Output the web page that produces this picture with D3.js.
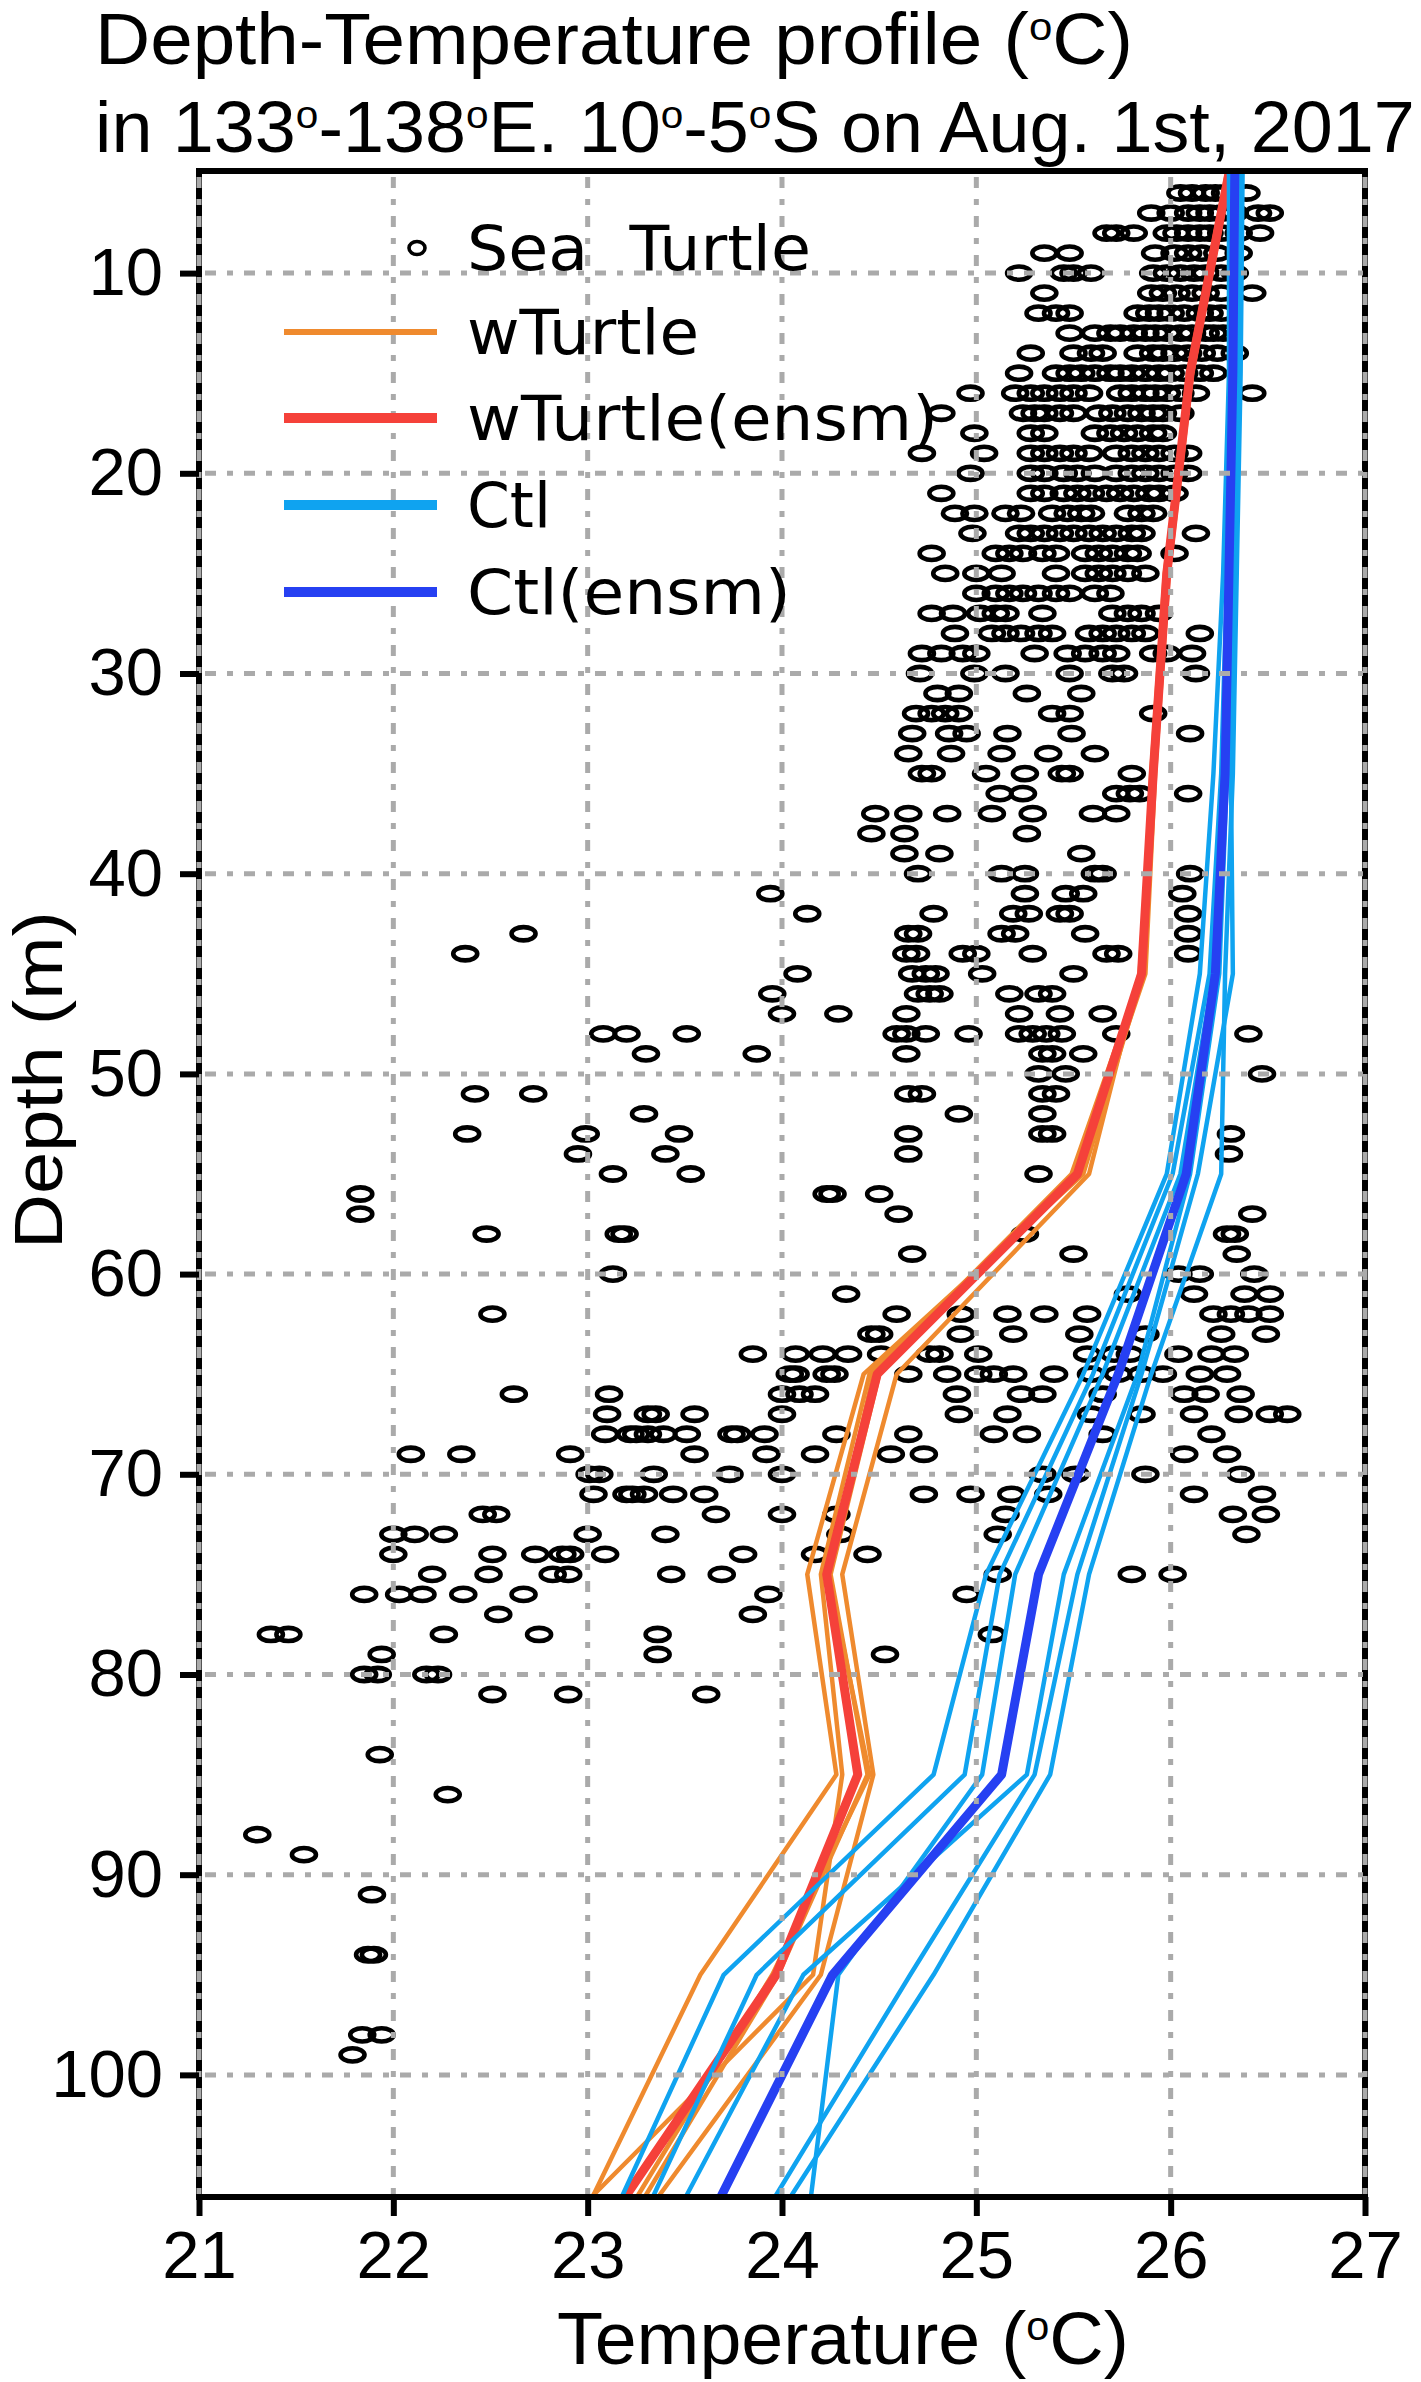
<!DOCTYPE html>
<html>
<head>
<meta charset="utf-8">
<script src="https://cdn.jsdelivr.net/npm/d3@7/dist/d3.min.js"></script>
<style>
  body { margin: 0; background: #fff; }
</style>
</head>
<body>
<svg id="chart" width="1421" height="2382"></svg>
<script>
// ---- data ----
var depthLevels = [5, 15, 25, 35, 45, 55, 65, 75, 85, 95, 106];

var wTurtleRuns = [
  [26.30, 26.10, 25.98, 25.91, 25.86, 25.55, 24.42, 24.13, 24.28, 23.58, 23.03],
  [26.31, 26.11, 25.99, 25.92, 25.87, 25.52, 24.45, 24.20, 24.31, 24.16, 23.03],
  [26.29, 26.09, 25.98, 25.91, 25.84, 25.58, 24.59, 24.31, 24.47, 24.20, 23.37],
  [26.30, 26.10, 25.97, 25.90, 25.85, 25.50, 24.50, 24.25, 24.44, 23.98, 23.30],
  [26.30, 26.11, 25.98, 25.91, 25.85, 25.49, 24.47, 24.24, 24.45, 23.95, 23.26]
];
var wTurtleEnsm = [26.30, 26.10, 25.98, 25.91, 25.85, 25.52, 24.49, 24.23, 24.39, 23.97, 23.20];

var ctlRuns = [
  [26.30, 26.30, 26.27, 26.22, 26.15, 25.98, 25.55, 25.05, 24.78, 23.70, 23.18],
  [26.31, 26.31, 26.29, 26.26, 26.20, 26.01, 25.60, 25.12, 24.94, 23.87, 23.34],
  [26.33, 26.32, 26.30, 26.28, 26.22, 26.05, 25.65, 25.20, 25.03, 24.29, 24.15],
  [26.34, 26.33, 26.31, 26.29, 26.25, 26.10, 25.83, 25.45, 25.26, 24.11, 23.51],
  [26.36, 26.35, 26.33, 26.31, 26.32, 26.14, 25.85, 25.52, 25.30, 24.66, 23.97],
  [26.37, 26.36, 26.34, 26.32, 26.28, 26.26, 25.90, 25.58, 25.38, 24.78, 24.05]
];
var ctlEnsm = [26.33, 26.32, 26.30, 26.28, 26.23, 26.08, 25.73, 25.32, 25.13, 24.26, 23.69];

// sea turtle observations: [depth, temperatures]
var turtleObs = [
  [6, [26.05, 26.11, 26.18, 26.23, 26.28, 26.39]],
  [7, [25.90, 26.00, 26.09, 26.15, 26.20, 26.26, 26.33, 26.45, 26.51]],
  [8, [25.67, 25.72, 25.81, 25.98, 26.03, 26.09, 26.15, 26.20, 26.26, 26.35, 26.46]],
  [9, [25.35, 25.48, 25.92, 26.02, 26.09, 26.16, 26.24, 26.35]],
  [10, [25.22, 25.45, 25.50, 25.59, 25.91, 25.98, 26.05, 26.12, 26.18, 26.26, 26.33]],
  [11, [25.35, 25.90, 25.96, 26.03, 26.11, 26.18, 26.26, 26.42]],
  [12, [25.32, 25.41, 25.48, 25.83, 25.89, 25.94, 26.00, 26.07, 26.15, 26.20, 26.26]],
  [13, [25.48, 25.61, 25.69, 25.74, 25.81, 25.87, 25.92, 25.98, 26.05, 26.11, 26.18, 26.22, 26.27]],
  [14, [25.28, 25.50, 25.59, 25.65, 25.83, 25.91, 25.96, 26.02, 26.09, 26.16, 26.24, 26.33]],
  [15, [25.22, 25.41, 25.48, 25.54, 25.61, 25.69, 25.74, 25.80, 25.87, 25.94, 26.00, 26.07, 26.15, 26.22]],
  [16, [24.97, 25.20, 25.28, 25.35, 25.43, 25.50, 25.58, 25.74, 25.80, 25.87, 25.92, 25.98, 26.05, 26.13, 26.42]],
  [17, [24.82, 25.24, 25.30, 25.35, 25.43, 25.50, 25.63, 25.70, 25.78, 25.85, 25.91, 25.96, 26.05]],
  [18, [24.99, 25.28, 25.35, 25.61, 25.69, 25.76, 25.83, 25.91, 25.96]],
  [19, [24.72, 25.04, 25.28, 25.35, 25.43, 25.50, 25.58, 25.72, 25.80, 25.87, 25.94, 26.02, 26.09]],
  [20, [24.97, 25.28, 25.35, 25.45, 25.52, 25.61, 25.72, 25.80, 25.87, 25.94, 26.02, 26.09]],
  [21, [24.82, 25.28, 25.35, 25.45, 25.52, 25.59, 25.67, 25.74, 25.81, 25.89, 25.94, 26.02]],
  [22, [24.89, 24.99, 25.15, 25.23, 25.39, 25.47, 25.54, 25.59, 25.78, 25.85, 25.91]],
  [23, [24.98, 25.22, 25.28, 25.35, 25.43, 25.50, 25.58, 25.65, 25.72, 25.80, 25.85, 26.13]],
  [24, [24.77, 25.10, 25.17, 25.24, 25.34, 25.41, 25.56, 25.63, 25.70, 25.78, 25.83, 26.02]],
  [25, [24.84, 25.00, 25.13, 25.41, 25.56, 25.63, 25.70, 25.78, 25.87]],
  [26, [25.00, 25.10, 25.17, 25.24, 25.32, 25.41, 25.48, 25.61, 25.69]],
  [27, [24.77, 24.88, 25.02, 25.10, 25.15, 25.34, 25.70, 25.78, 25.85, 25.94]],
  [28, [24.89, 25.08, 25.15, 25.23, 25.32, 25.39, 25.58, 25.65, 25.72, 25.80, 25.87, 26.15]],
  [29, [24.72, 24.82, 24.93, 25.00, 25.30, 25.47, 25.56, 25.65, 25.72, 25.91, 25.98, 26.11]],
  [30, [24.71, 24.99, 25.15, 25.48, 25.70, 25.76, 26.13]],
  [31, [24.80, 24.91, 25.26, 25.54]],
  [32, [24.69, 24.77, 24.84, 24.91, 25.39, 25.48, 25.91]],
  [33, [24.67, 24.86, 24.95, 25.16, 25.49, 26.10]],
  [34, [24.65, 24.87, 25.13, 25.37, 25.61]],
  [35, [24.72, 24.77, 25.05, 25.25, 25.44, 25.48, 25.80]],
  [36, [25.12, 25.24, 25.72, 25.79, 25.84, 26.09]],
  [37, [24.48, 24.65, 24.85, 25.08, 25.29, 25.60, 25.72]],
  [38, [24.46, 24.63, 25.26]],
  [39, [24.63, 24.81, 25.54]],
  [40, [24.70, 25.13, 25.25, 25.61, 25.65, 26.10]],
  [41, [23.94, 25.25, 25.46, 25.55, 26.06]],
  [42, [24.13, 24.78, 25.19, 25.27, 25.43, 25.48, 26.09]],
  [43, [22.67, 24.65, 24.70, 25.13, 25.20, 25.56, 26.09]],
  [44, [22.37, 24.64, 24.69, 24.93, 25.00, 25.29, 25.67, 25.73, 26.09]],
  [45, [24.08, 24.67, 24.74, 24.79, 25.03, 25.50]],
  [46, [23.95, 24.70, 24.76, 24.81, 25.17, 25.32, 25.39]],
  [47, [24.00, 24.29, 24.64, 25.22, 25.43, 25.65]],
  [48, [23.08, 23.20, 23.51, 24.59, 24.64, 24.74, 24.96, 25.22, 25.29, 25.36, 25.44, 25.72, 26.40]],
  [49, [23.30, 23.87, 24.64, 25.34, 25.39, 25.55]],
  [50, [25.32, 25.46, 26.47]],
  [51, [22.42, 22.72, 24.65, 24.72, 25.34, 25.41]],
  [52, [23.29, 24.91, 25.34]],
  [53, [22.38, 22.99, 23.47, 24.65, 25.34, 25.39, 26.31]],
  [54, [22.95, 23.40, 24.65, 26.30]],
  [55, [23.13, 23.53, 25.32]],
  [56, [21.83, 24.23, 24.26, 24.50]],
  [57, [21.83, 24.60, 26.42]],
  [58, [22.48, 23.16, 23.19, 25.25, 26.29, 26.33]],
  [59, [24.67, 25.50, 26.34]],
  [60, [23.13, 26.04, 26.15, 26.43]],
  [61, [24.33, 25.78, 26.12, 26.38, 26.51]],
  [62, [22.51, 24.59, 24.92, 25.16, 25.35, 25.57, 26.22, 26.31, 26.40, 26.51]],
  [63, [24.46, 24.50, 24.92, 25.19, 25.53, 25.87, 26.26, 26.49]],
  [64, [23.85, 24.07, 24.21, 24.34, 24.51, 24.76, 24.81, 25.01, 25.57, 25.71, 25.79, 26.04, 26.21, 26.33]],
  [65, [24.04, 24.07, 24.23, 24.27, 24.65, 24.85, 25.01, 25.09, 25.19, 25.40, 25.59, 25.73, 25.85, 25.96, 26.15, 26.29]],
  [66, [22.62, 23.11, 24.00, 24.09, 24.17, 24.90, 25.23, 25.34, 25.65, 26.07, 26.18, 26.36]],
  [67, [23.10, 23.31, 23.35, 23.55, 24.00, 24.91, 25.16, 25.59, 25.85, 26.12, 26.35, 26.51, 26.60]],
  [68, [23.09, 23.22, 23.25, 23.31, 23.39, 23.51, 23.74, 23.77, 23.91, 24.28, 24.65, 25.09, 25.26, 25.65, 26.21]],
  [69, [22.09, 22.35, 22.91, 23.55, 23.92, 24.17, 24.56, 24.73, 26.07, 26.29]],
  [70, [23.01, 23.06, 23.34, 23.73, 24.00, 25.34, 25.51, 25.87, 26.36]],
  [71, [23.03, 23.20, 23.23, 23.29, 23.44, 23.60, 24.73, 24.97, 25.18, 25.37, 26.12, 26.47]],
  [72, [22.46, 22.53, 23.66, 24.00, 24.28, 25.15, 26.32, 26.49]],
  [73, [22.00, 22.11, 22.26, 23.00, 23.40, 24.30, 25.11, 26.39]],
  [74, [22.00, 22.51, 22.73, 22.87, 22.91, 23.09, 23.80, 24.17, 24.44]],
  [75, [22.20, 22.49, 22.82, 22.90, 23.43, 23.69, 25.11, 25.80, 26.01]],
  [76, [21.85, 22.03, 22.15, 22.36, 22.67, 23.93, 24.95]],
  [77, [22.54, 23.85]],
  [78, [21.37, 21.46, 22.26, 22.75, 23.36, 25.08]],
  [79, [21.94, 23.36, 24.53]],
  [80, [21.85, 21.92, 22.17, 22.23]],
  [81, [22.51, 22.90, 23.61]],
  [84, [21.93]],
  [86, [22.28]],
  [88, [21.30]],
  [89, [21.54]],
  [91, [21.89]],
  [94, [21.87, 21.90]],
  [98, [21.84, 21.94]],
  [99, [21.79]]
];

var xTicks = [21, 22, 23, 24, 25, 26, 27];
var yTicks = [10, 20, 30, 40, 50, 60, 70, 80, 90, 100];
var legendLabels = ["Sea  Turtle", "wTurtle", "wTurtle(ensm)", "Ctl", "Ctl(ensm)"];

// ---- setup ----
var svg = d3.select("#chart");
var plotL = 199, plotR = 1365, plotT = 171, plotB = 2197;
var sansFont = "'Liberation Sans', Arial, sans-serif";
var legendFont = "'DejaVu Sans', Verdana, sans-serif";

var x = d3.scaleLinear().domain([21, 27]).range([plotL, plotR]);
var y = d3.scaleLinear().domain([4.9, 106.1]).range([plotT, plotB]);

var colors = {
  run: "#EF8A2E",
  ens: "#F5413A",
  ctl: "#0FA3F0",
  ctlEns: "#2640F2"
};

svg.append("rect").attr("width", 1421).attr("height", 2382).attr("fill", "#fff");

// squeeze a text node horizontally so its width matches the picture
function fitWidth(sel, width) {
  var w = sel.node().getBBox().width;
  if (w > 0) sel.attr("transform", "scale(" + (width / w) + ",1)");
}

function addDegreeText(g, before, after, size) {
  var t = g.append("text").attr("font-size", size).attr("fill", "#000")
    .style("font-family", sansFont);
  t.append("tspan").text(before);
  t.append("tspan").attr("font-size", size * 0.55).attr("dy", -size * 0.33).text("o");
  t.append("tspan").attr("dy", size * 0.33).text(after);
  return t;
}

// ---- title ----
var t1 = svg.append("g").attr("transform", "translate(95,64)");
fitWidth(addDegreeText(t1, "Depth-Temperature profile (", "C)", 72), 1038);

var t2g = svg.append("g").attr("transform", "translate(95,152)");
var t2 = t2g.append("text").attr("font-size", 72).attr("fill", "#000")
  .style("font-family", sansFont);
[["in 133", false], ["o", true], ["-138", false], ["o", true], ["E. 10", false], ["o", true],
 ["-5", false], ["o", true], ["S on Aug. 1st, 2017", false]].forEach(function (p, i, arr) {
  var ts = t2.append("tspan").text(p[0]);
  if (p[1]) ts.attr("font-size", 72 * 0.55).attr("dy", -72 * 0.33);
  else if (i > 0 && arr[i - 1][1]) ts.attr("dy", 72 * 0.33);
});
fitWidth(t2, 1320);

// ---- scatter ----
var pts = [];
turtleObs.forEach(function (row) {
  row[1].forEach(function (t) { pts.push({ d: row[0], t: t }); });
});

svg.append("g")
  .selectAll("ellipse")
  .data(pts)
  .enter().append("ellipse")
  .attr("cx", function (p) { return x(p.t); })
  .attr("cy", function (p) { return y(p.d); })
  .attr("rx", 12)
  .attr("ry", 6.6)
  .attr("fill", "none")
  .attr("stroke", "#000")
  .attr("stroke-width", 4.6);

// ---- profiles ----
var line = d3.line()
  .x(function (v) { return x(v); })
  .y(function (v, i) { return y(depthLevels[i]); });

var lines = svg.append("g").attr("fill", "none")
  .attr("stroke-linejoin", "round").attr("stroke-linecap", "round");

function drawProfile(vals, color, width) {
  lines.append("path").datum(vals)
    .attr("stroke", color).attr("stroke-width", width).attr("d", line);
}

wTurtleRuns.forEach(function (r) { drawProfile(r, colors.run, 4.5); });
drawProfile(wTurtleEnsm, colors.ens, 9);
ctlRuns.forEach(function (r) { drawProfile(r, colors.ctl, 4.5); });
drawProfile(ctlEnsm, colors.ctlEns, 9);

// ---- frame ----
svg.append("rect")
  .attr("x", plotL).attr("y", plotT)
  .attr("width", plotR - plotL).attr("height", plotB - plotT)
  .attr("fill", "none").attr("stroke", "#000").attr("stroke-width", 6);

// ---- grid (drawn on top like the original) ----
var grid = svg.append("g").attr("stroke", "#aaa").attr("stroke-width", 5)
  .attr("stroke-dasharray", "11 11 6 11");
grid.selectAll(".vg").data(xTicks).enter().append("line")
  .attr("x1", function (d) { return x(d); }).attr("x2", function (d) { return x(d); })
  .attr("y1", plotT + 6).attr("y2", plotB - 2);
grid.selectAll(".hg").data(yTicks).enter().append("line")
  .attr("x1", plotL + 6).attr("x2", plotR - 2)
  .attr("y1", function (d) { return y(d); }).attr("y2", function (d) { return y(d); });

// ---- axes ----
var xAxis = svg.append("g")
  .attr("transform", "translate(0," + plotB + ")")
  .call(d3.axisBottom(x).tickValues(xTicks).tickSize(19).tickPadding(14).tickFormat(d3.format("d")));
xAxis.select(".domain").remove();
xAxis.selectAll("line").attr("stroke", "#000").attr("stroke-width", 6);
xAxis.selectAll("text").attr("font-size", 67).attr("fill", "#000")
  .style("font-family", sansFont);

var yAxis = svg.append("g")
  .attr("transform", "translate(" + plotL + ",0)")
  .call(d3.axisLeft(y).tickValues(yTicks).tickSize(19).tickPadding(17).tickFormat(d3.format("d")));
yAxis.select(".domain").remove();
yAxis.selectAll("line").attr("stroke", "#000").attr("stroke-width", 6);
yAxis.selectAll("text").attr("font-size", 67).attr("fill", "#000")
  .style("font-family", sansFont);

// axis titles
var xt = svg.append("g").attr("transform", "translate(557,2364)");
fitWidth(addDegreeText(xt, "Temperature (", "C)", 74), 572);

var yt = svg.append("g").attr("transform", "translate(62,1249) rotate(-90)");
var ytText = yt.append("text").attr("font-size", 68).attr("fill", "#000")
  .style("font-family", sansFont).text("Depth (m)");
fitWidth(ytText, 338);

// ---- legend ----
var legend = svg.append("g");
var legendY = [248, 332, 418, 505, 592];
var legendWidth = [344, 232, 471, 84, 324];
var legendStyle = [
  null,
  { c: colors.run, w: 6 },
  { c: colors.ens, w: 10 },
  { c: colors.ctl, w: 10 },
  { c: colors.ctlEns, w: 10 }
];
legendLabels.forEach(function (lab, i) {
  if (i === 0) {
    legend.append("ellipse").attr("cx", 417).attr("cy", legendY[i])
      .attr("rx", 8).attr("ry", 6.5).attr("fill", "none")
      .attr("stroke", "#000").attr("stroke-width", 3.6);
  } else {
    legend.append("line").attr("x1", 284).attr("x2", 437)
      .attr("y1", legendY[i]).attr("y2", legendY[i])
      .attr("stroke", legendStyle[i].c).attr("stroke-width", legendStyle[i].w);
  }
  var lg = legend.append("g").attr("transform", "translate(467," + (legendY[i] + 22) + ")");
  var lt = lg.append("text").attr("font-size", 62).attr("fill", "#000")
    .style("font-family", legendFont)
    .style("white-space", "pre").text(lab);
  fitWidth(lt, legendWidth[i]);
});
</script>
</body>
</html>
